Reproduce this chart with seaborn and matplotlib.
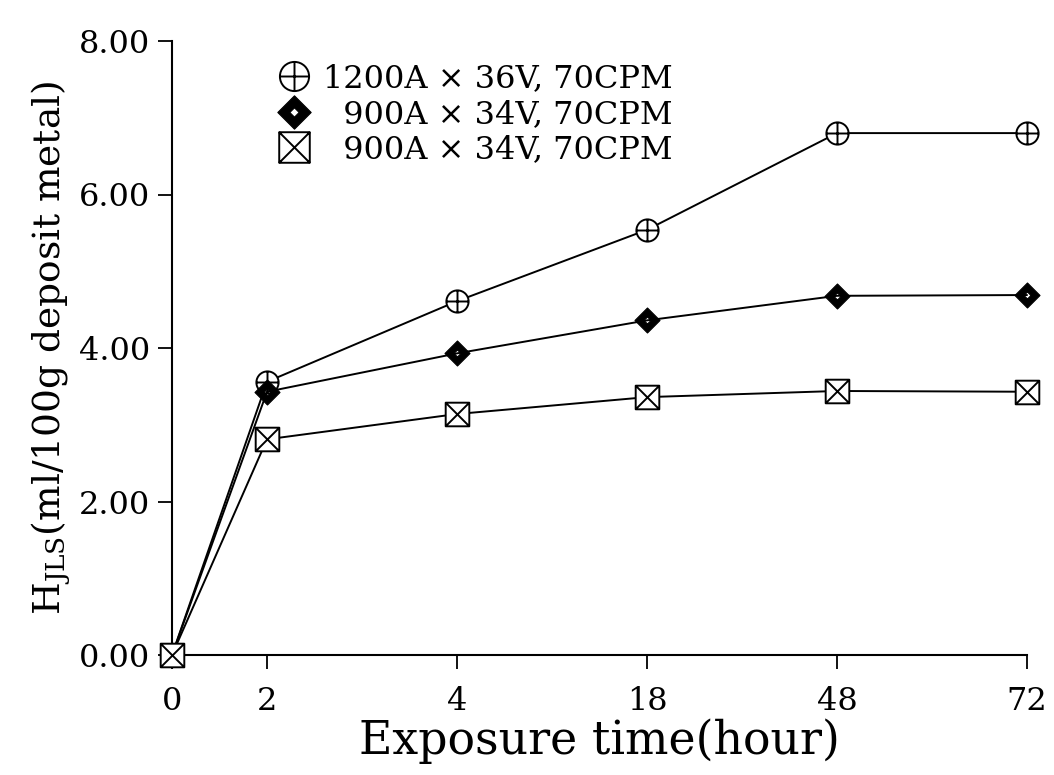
import matplotlib
matplotlib.use("Agg")
import matplotlib.pyplot as plt
from matplotlib.path import Path
from matplotlib.lines import Line2D
import seaborn as sns

# data
hours = ["0", "2", "4", "18", "48", "72"]
# original axis draws the 0 -> 2 gap at half width
hour_pos = [0, 0.5, 1.5, 2.5, 3.5, 4.5]

h_1200a_36v = [0.0, 3.56, 4.61, 5.54, 6.80, 6.80]
h_900a_34v_a = [0.0, 3.43, 3.93, 4.36, 4.68, 4.69]
h_900a_34v_b = [0.0, 2.81, 3.14, 3.36, 3.44, 3.43]

series_labels = ["1200A \u00d7 36V, 70CPM",
                 "  900A \u00d7 34V, 70CPM",
                 "  900A \u00d7 34V, 70CPM"]
y_ticks = [0, 2, 4, 6, 8]

sns.set_style("ticks")
plt.rcParams['font.family'] = ['DejaVu Serif']
plt.rcParams['mathtext.fontset'] = 'dejavuserif'
for k in ['text.color', 'axes.labelcolor', 'axes.edgecolor',
          'xtick.color', 'ytick.color']:
    plt.rcParams[k] = 'black'

M, L = Path.MOVETO, Path.LINETO


# marker shapes: circle with plus, diamond with small hole, box with cross
def circle_plus():
    plus = Path([(-1, 0), (1, 0), (0, -1), (0, 1)], [M, L, M, L])
    return Path.make_compound_path(Path.unit_circle(), plus)


def diamond_hole():
    outer = Path([(0, 1), (1, 0), (0, -1), (-1, 0), (0, 1)],
                 [M, L, L, L, Path.CLOSEPOLY])
    r = 0.28
    inner = Path([(0, r), (-r, 0), (0, -r), (r, 0), (0, r)],
                 [M, L, L, L, Path.CLOSEPOLY])
    return Path.make_compound_path(outer, inner)


def box_cross():
    sq = Path([(-1, -1), (1, -1), (1, 1), (-1, 1), (-1, -1)],
              [M, L, L, L, Path.CLOSEPOLY])
    cross = Path([(-1, -1), (1, 1), (-1, 1), (1, -1)], [M, L, M, L])
    return Path.make_compound_path(sq, cross)


# values, marker, face, edge width, size in plot, size in legend
styles = [
    (h_1200a_36v, circle_plus(), 'white', 1.4, 16, 21),
    (h_900a_34v_a, diamond_hole(), 'black', 0.8, 18, 24),
    (h_900a_34v_b, box_cross(), 'white', 1.4, 17, 22),
]

fig = plt.figure(figsize=(10.54, 7.75), dpi=100)
ax = fig.add_axes([172 / 1054, 1 - 655 / 775, 855 / 1054, 614 / 775])

handles = []
for (vals, mk, face, mew, ms, ms_leg), lab in zip(styles, series_labels):
    sns.lineplot(x=hour_pos, y=vals, ax=ax, color='black', lw=1.4,
                 marker=mk, markersize=ms, markerfacecolor=face,
                 markeredgecolor='black', markeredgewidth=mew,
                 clip_on=False, legend=False, zorder=3)
    handles.append(Line2D([], [], linestyle='none', marker=mk, markersize=ms_leg,
                          markerfacecolor=face, markeredgecolor='black',
                          markeredgewidth=mew, label=lab))

ax.set_xlim(0, 4.5)
ax.set_ylim(0, 8)
ax.set_xticks(hour_pos)
ax.set_xticklabels(hours)
ax.set_yticks(y_ticks)
ax.set_yticklabels([f"{v:.2f}" for v in y_ticks])
ax.tick_params(direction='out', length=10, width=1.3, labelsize=23)
ax.tick_params(axis='x', pad=12)
ax.tick_params(axis='y', pad=6)
for s in ax.spines.values():
    s.set_linewidth(1.5)
sns.despine(ax=ax)

ax.set_xlabel("Exposure time(hour)", fontsize=33, labelpad=1)
ax.set_ylabel("H$_{\\rm JLS}$(ml/100g deposit metal)", fontsize=27, labelpad=4)

ax.legend(handles=handles, loc='upper left', bbox_to_anchor=(0.109, 0.985),
          frameon=False, fontsize=23, handlelength=1.0, handletextpad=0.4,
          labelspacing=0.15, borderaxespad=0)

fig.savefig("out.png", dpi=100)
